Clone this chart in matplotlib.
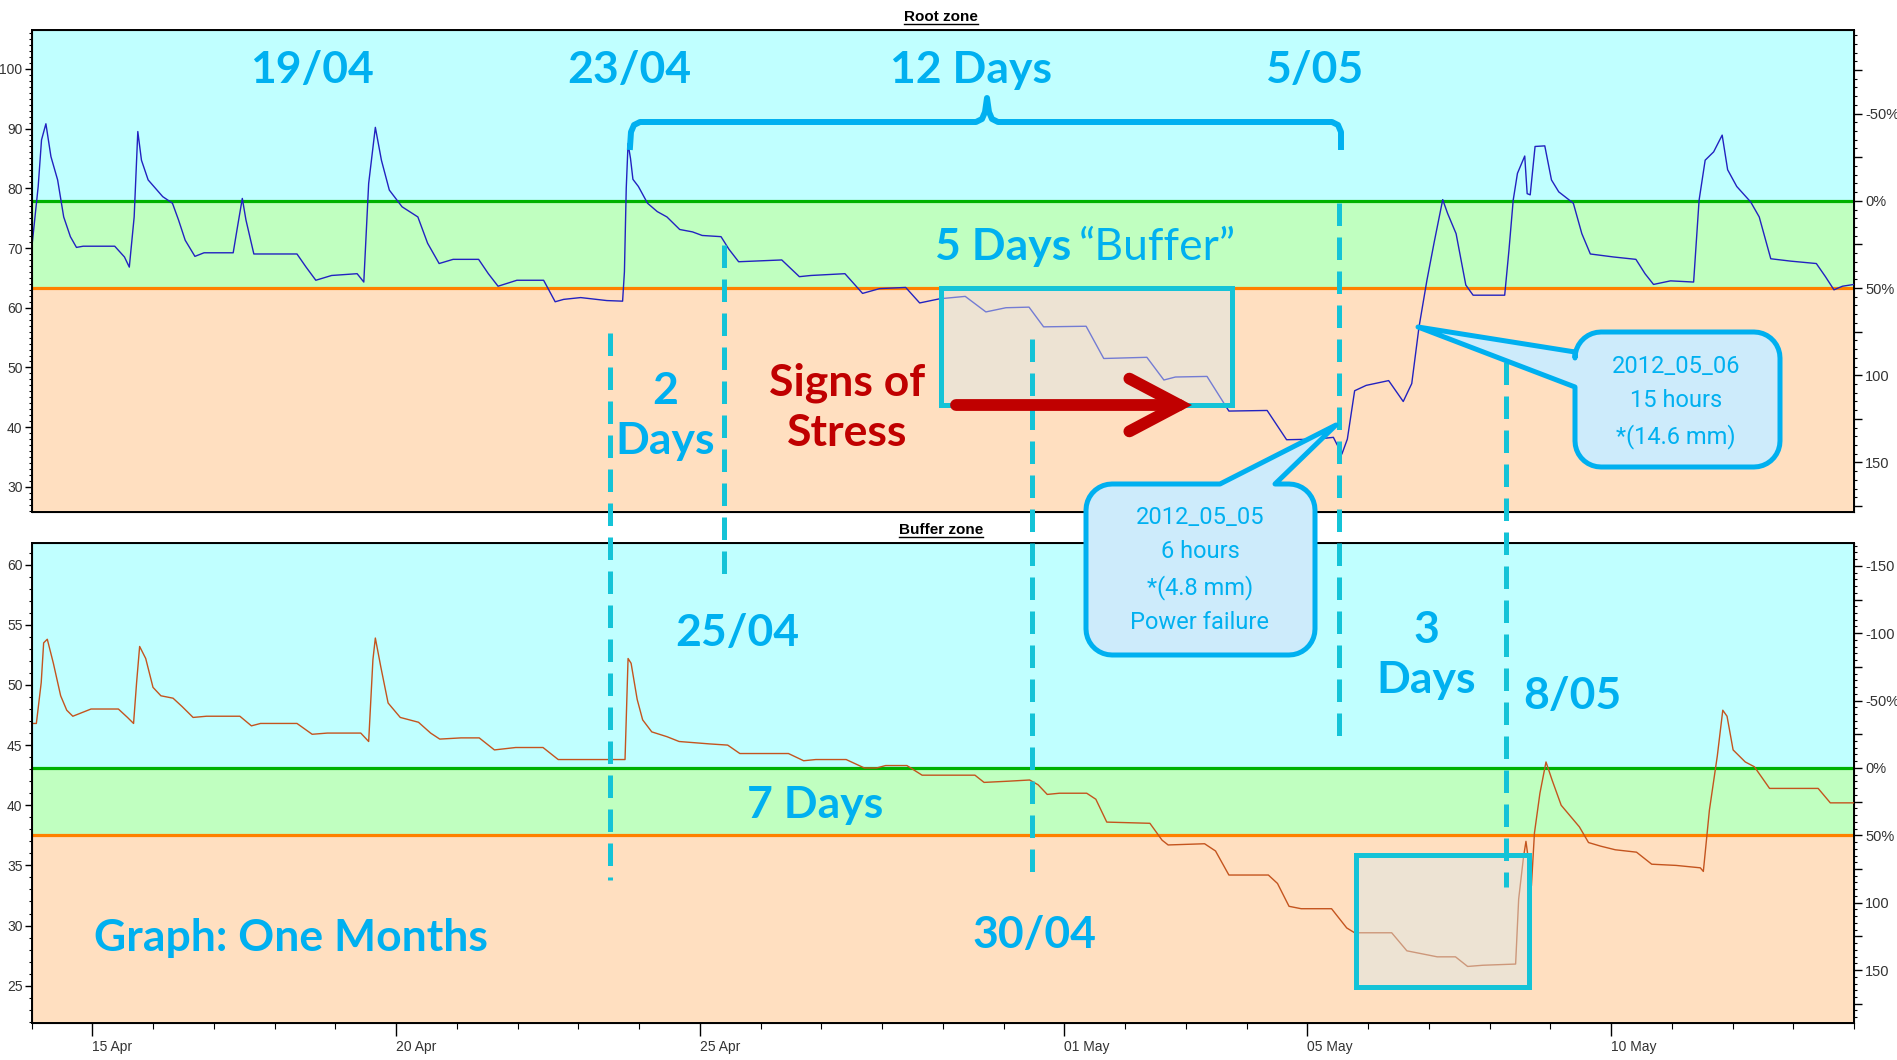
import matplotlib
matplotlib.use('Agg')
import matplotlib.pyplot as plt
import matplotlib.dates as mdates
import matplotlib.ticker as mticker
from matplotlib.patches import Rectangle, Polygon, FancyArrowPatch
from matplotlib.lines import Line2D
from matplotlib import font_manager
from matplotlib.colors import to_rgba
import numpy as np
import pandas as pd

# ---- data -------------------------------------------------------------
start = pd.Timestamp('2012-04-14')
end = pd.Timestamp('2012-05-14')

# root zone sensor, days after 14 Apr
root_days = [0.0, 0.11, 0.165, 0.237, 0.32, 0.43, 0.53, 0.64, 0.74, 0.85, 1.37, 1.53, 1.61, 1.69,
             1.75, 1.81, 1.92, 2.16, 2.32, 2.42, 2.53, 2.69, 2.84, 3.32, 3.39, 3.47, 3.53, 3.66,
             4.37, 4.52, 4.68, 4.94, 5.36, 5.47, 5.55, 5.66, 5.76, 5.89, 6.10, 6.36, 6.52, 6.71,
             6.94, 7.36, 7.52, 7.68, 7.99, 8.43, 8.62, 8.76, 9.04, 9.47, 9.73, 9.76, 9.79, 9.82,
             9.86, 9.90, 9.99, 10.14, 10.30, 10.46, 10.67, 10.88, 11.04, 11.35, 11.48, 11.64,
             12.35, 12.64, 12.83, 13.39, 13.68, 13.96, 14.39, 14.62, 14.95, 15.37, 15.71, 16.04,
             16.42, 16.66, 17.36, 17.65, 18.36, 18.64, 18.83, 19.35, 19.71, 20.34, 20.66, 21.15,
             21.43, 21.57, 21.66, 21.78, 21.97, 22.34, 22.58, 22.72, 22.84, 22.97, 23.09, 23.23,
             23.31, 23.45, 23.61, 23.73, 24.25, 24.32, 24.39, 24.46, 24.58, 24.62, 24.67, 24.75,
             24.91, 25.02, 25.14, 25.38, 25.52, 25.66, 26.04, 26.41, 26.56, 26.70, 26.98, 27.36,
             27.45, 27.55, 27.69, 27.83, 27.92, 28.07, 28.30, 28.44, 28.63, 28.96, 29.38, 29.53,
             29.67, 29.81, 30.0]
root_vals = [69.6, 80.3, 88.1, 90.8, 85.3, 81.4, 75.2, 71.9, 70.1, 70.3, 70.3, 68.5, 66.8, 75.2,
             89.5, 84.7, 81.4, 78.6, 77.5, 74.7, 71.3, 68.6, 69.2, 69.2, 73.5, 78.3, 74.7, 69.0,
             69.0, 66.8, 64.6, 65.4, 65.7, 64.3, 80.8, 90.2, 84.7, 79.7, 76.9, 75.2, 70.8, 67.4,
             68.1, 68.1, 65.7, 63.6, 64.6, 64.6, 61.0, 61.4, 61.7, 61.2, 61.1, 66.0, 80.0, 87.5,
             85.0, 81.5, 80.3, 77.5, 76.1, 75.2, 73.1, 72.7, 72.1, 71.9, 69.8, 67.7,
             68.0, 65.2, 65.4, 65.7, 62.4, 63.2, 63.4, 60.8, 61.5, 61.9, 59.3, 60.0,
             60.1, 56.8, 56.9, 51.5, 51.7, 47.9, 48.4, 48.5, 42.7, 42.8, 37.9, 38.0,
             38.3, 35.5, 38.0, 46.1, 47.0, 47.8, 44.3, 47.3, 56.8, 64.6, 71.0, 78.1,
             75.8, 72.4, 63.8, 62.1, 62.1, 69.6, 78.0, 82.5, 85.4, 79.1, 78.9, 87.0,
             87.1, 81.4, 79.4, 77.5, 72.4, 69.0, 68.5, 68.1, 65.7, 63.9, 64.5, 64.3,
             78.0, 84.7, 86.1, 88.9, 83.1, 80.3, 77.7, 75.2, 68.2, 67.8, 67.4, 65.2,
             63.0, 63.6, 63.9]

# buffer zone sensor
buffer_days = [0.0, 0.08, 0.16, 0.20, 0.26, 0.36, 0.48, 0.58, 0.68, 0.88, 0.98, 1.43, 1.58, 1.68,
               1.73, 1.78, 1.88, 2.00, 2.13, 2.33, 2.48, 2.66, 2.88, 3.43, 3.62, 3.77, 4.37, 4.62,
               4.87, 5.42, 5.55, 5.62, 5.66, 5.75, 5.87, 6.07, 6.37, 6.57, 6.72, 7.07, 7.37, 7.62,
               7.97, 8.42, 8.67, 9.77, 9.82, 9.87, 9.97, 10.06, 10.21, 10.46, 10.66, 11.16, 11.46,
               11.66, 12.46, 12.71, 12.91, 13.41, 13.71, 13.91, 14.06, 14.41, 14.66, 15.53, 15.68,
               16.08, 16.43, 16.57, 16.72, 16.92, 17.37, 17.52, 17.70, 18.41, 18.61, 18.71, 19.31,
               19.49, 19.71, 20.36, 20.51, 20.70, 20.90, 21.40, 21.65, 21.78, 22.39, 22.64, 22.94,
               23.14, 23.44, 23.64, 23.89, 24.43, 24.48, 24.56, 24.60, 24.64, 24.69, 24.74, 24.83,
               24.93, 25.03, 25.18, 25.38, 25.48, 25.63, 25.83, 26.07, 26.42, 26.67, 27.07, 27.47,
               27.52, 27.62, 27.75, 27.84, 27.91, 28.01, 28.21, 28.36, 28.61, 29.41, 29.61, 30.0]
buffer_vals = [46.8, 46.8, 50.2, 53.5, 53.8, 51.8, 49.1, 47.9, 47.4, 47.8, 48.0, 48.0, 47.3, 46.8,
               50.2, 53.2, 52.2, 49.8, 49.1, 48.9, 48.2, 47.3, 47.4, 47.4, 46.6, 46.8, 46.8, 45.9,
               46.0, 46.0, 45.3, 52.1, 53.9, 51.5, 48.5, 47.3, 46.9, 46.0, 45.5, 45.6, 45.6, 44.6,
               44.8, 44.8, 43.8, 43.8, 52.2, 51.8, 48.8, 47.1, 46.1, 45.7, 45.3, 45.1, 45.0,
               44.3, 44.3, 43.7, 43.8, 43.8, 43.1, 43.1, 43.3, 43.3, 42.5, 42.5, 41.9,
               42.0, 42.1, 41.7, 40.9, 41.0, 41.0, 40.5, 38.6, 38.5, 37.1, 36.7, 36.8,
               36.2, 34.2, 34.2, 33.5, 31.6, 31.4, 31.4, 29.8, 29.4, 29.4, 27.9, 27.6,
               27.4, 27.4, 26.6, 26.7, 26.8, 32.2, 35.7, 37.0, 35.5, 33.3, 37.7, 41.0,
               43.6, 42.1, 40.0, 38.8, 38.2, 36.9, 36.6, 36.3, 36.1, 35.1, 35.0, 34.8,
               34.5, 39.6, 44.1, 47.9, 47.4, 44.6, 43.6, 43.2, 41.4, 41.4, 40.2, 40.2]

root_ylim = (25.8, 106.5)
buffer_ylim = (21.9, 61.8)
root_green, root_orange = 77.9, 63.3
buffer_green, buffer_orange = 43.1, 37.5

date_ticks = ['2012-04-15', '2012-04-20', '2012-04-25', '2012-05-01', '2012-05-05', '2012-05-10']
date_labels = ['15 Apr', '20 Apr', '25 Apr', '01 May', '05 May', '10 May']

# ---- style ------------------------------------------------------------
names = {f.name for f in font_manager.fontManager.ttflist}
tick_font = 'Liberation Sans Narrow' if 'Liberation Sans Narrow' in names else 'Liberation Sans'
plt.rcParams['font.family'] = ['Lato', 'DejaVu Sans']

cyan_bg, green_bg, peach_bg = '#C0FFFF', '#C0FFC0', '#FFDFC0'
txt_blue = '#00B0F0'
dash_cyan = '#14C3D7'

W, H = 1897, 1060
fig = plt.figure(figsize=(W / 100, H / 100), dpi=100)


def fx(x):
    return x / W


def fy(y):
    return 1 - y / H


ax1 = fig.add_axes([fx(31.5), fy(512), fx(1854) - fx(31.5), fy(30) - fy(512)])
ax2 = fig.add_axes([fx(31.5), fy(1023), fx(1854) - fx(31.5), fy(543) - fy(1023)])


def right_label(v, pos):
    if abs(v % 50) > 1e-6:
        return ''
    return f'{v:g}%' if abs(v) <= 50 else f'{v:g}'


def panel(ax, days, vals, ylim, green, orange, color, ymajor):
    t = start + pd.to_timedelta(days, unit='D')
    ax.axhspan(green, ylim[1], color=cyan_bg, zorder=0, lw=0)
    ax.axhspan(orange, green, color=green_bg, zorder=0, lw=0)
    ax.axhspan(ylim[0], orange, color=peach_bg, zorder=0, lw=0)
    ax.axhline(green, color='#00B000', lw=2.3, zorder=2)
    ax.axhline(orange, color='#FF8000', lw=2.3, zorder=2)
    ax.plot(t, vals, color=color, lw=1.0, zorder=3)
    ax.set_xlim(start, end)
    ax.set_ylim(*ylim)
    ax.yaxis.set_major_locator(mticker.MultipleLocator(ymajor))
    ax.yaxis.set_minor_locator(mticker.MultipleLocator(1))
    ax.tick_params(axis='y', which='major', length=5, width=1, labelsize=10, pad=1.5)
    ax.tick_params(axis='y', which='minor', length=2.5, width=0.8)
    for s in ax.spines.values():
        s.set_linewidth(1.4)
    rax = ax.twinx()
    to_r = lambda v: (green - v) / (green - orange) * 50
    rax.set_ylim(to_r(ylim[0]), to_r(ylim[1]))
    rax.yaxis.set_major_locator(mticker.MultipleLocator(25))
    rax.yaxis.set_minor_locator(mticker.MultipleLocator(5))
    rax.yaxis.set_major_formatter(mticker.FuncFormatter(right_label))
    rax.tick_params(axis='y', which='major', length=6, width=1, labelsize=10.5, pad=2)
    rax.tick_params(axis='y', which='minor', length=2.5, width=0.8)
    for a in (ax, rax):
        for lab in a.get_yticklabels():
            lab.set_family(tick_font)
            lab.set_color('#333333')
    return rax


panel(ax1, root_days, root_vals, root_ylim, root_green, root_orange, '#2222C0', 10)
panel(ax2, buffer_days, buffer_vals, buffer_ylim, buffer_green, buffer_orange, '#C4541E', 5)

ax1.tick_params(axis='x', which='both', bottom=False, labelbottom=False)
ax2.xaxis.set_major_locator(mticker.FixedLocator(mdates.date2num(pd.to_datetime(date_ticks))))
ax2.xaxis.set_major_formatter(mticker.FixedFormatter(date_labels))
ax2.xaxis.set_minor_locator(mdates.DayLocator())
ax2.tick_params(axis='x', which='major', length=9, width=1, labelsize=10, pad=3)
ax2.tick_params(axis='x', which='minor', length=4, width=0.8)
for lab in ax2.get_xticklabels():
    lab.set_family(tick_font)
    lab.set_ha('left')
    lab.set_color('#333333')

# ---- titles -----------------------------------------------------------
titles = []
for label, y in [('Root zone', 17), ('Buffer zone', 530)]:
    titles.append(fig.text(fx(941), fy(y), label, ha='center', va='center', fontsize=11,
                           fontweight='bold', family=tick_font))

# ---- shaded boxes -----------------------------------------------------
for (x0, y0, x1, y1) in [(941, 288, 1232, 405), (1356, 855, 1529, 987)]:
    fig.add_artist(Rectangle((fx(x0), fy(y1)), fx(x1) - fx(x0), fy(y0) - fy(y1),
                             transform=fig.transFigure, facecolor=to_rgba('#D8EAEC', 0.45),
                             edgecolor=dash_cyan, lw=3.6, zorder=1.5))

# ---- dashed markers ---------------------------------------------------
for (x, y0, y1) in [(610, 333, 880), (724, 245, 584), (1032, 339, 883),
                    (1339, 203, 746), (1506, 362, 887)]:
    fig.add_artist(Line2D([fx(x), fx(x)], [fy(y0), fy(y1)], transform=fig.transFigure,
                          color=dash_cyan, lw=3.6, linestyle=(0, (4.5, 2.3)), zorder=2))

# ---- brace ------------------------------------------------------------
brace = [(630, 147), (631, 132), (634, 125), (640, 122), (976, 122), (982, 119), (985, 112),
         (987, 98), (989, 112), (992, 119), (998, 122), (1332, 122), (1338, 125), (1341, 132),
         (1341, 147)]
fig.add_artist(Line2D([fx(p[0]) for p in brace], [fy(p[1]) for p in brace],
                      transform=fig.transFigure, color=txt_blue, lw=4.3,
                      solid_joinstyle='round', zorder=2))

# ---- red arrow --------------------------------------------------------
fig.add_artist(FancyArrowPatch((fx(956), fy(405)), (fx(1192), fy(405)),
                               transform=fig.transFigure,
                               arrowstyle='->,head_length=1.8,head_width=0.95',
                               mutation_scale=20, lw=8.5, color='#C00000',
                               shrinkA=0, shrinkB=0, joinstyle='miter', zorder=3))


# ---- callouts ---------------------------------------------------------
def callout(x0, y0, x1, y1, r, side, base, tip):
    pts = []

    def arc(cx, cy, a0, a1):
        for a in np.linspace(a0, a1, 10):
            pts.append((cx + r * np.cos(a), cy + r * np.sin(a)))

    arc(x0 + r, y0 + r, np.pi, 1.5 * np.pi)
    if side == 'top':
        pts.extend([(base[0], y0), tip, (base[1], y0)])
    arc(x1 - r, y0 + r, 1.5 * np.pi, 2 * np.pi)
    arc(x1 - r, y1 - r, 0, 0.5 * np.pi)
    arc(x0 + r, y1 - r, 0.5 * np.pi, np.pi)
    if side == 'left':
        pts.extend([(x0, base[1]), tip, (x0, base[0])])
    poly = Polygon([(fx(px), fy(py)) for px, py in pts], closed=True, transform=fig.transFigure,
                   facecolor='#CDEBFB', edgecolor=txt_blue, lw=3.6, joinstyle='round', zorder=3)
    fig.add_artist(poly)


callout(1086, 484, 1315, 655, 26, 'top', (1220, 1275), (1336, 425))
callout(1575, 332, 1780, 467, 26, 'left', (352, 387), (1418, 327))

small = dict(color=txt_blue, fontsize=17, ha='center', va='center', family=['Roboto', 'DejaVu Sans'],
             fontweight='normal', linespacing=1.62, zorder=4)
fig.text(fx(1200), fy(570), '2012_05_05\n6 hours\n*(4.8 mm)\nPower failure', **small)
fig.text(fx(1676), fy(402), '2012_05_06\n15 hours\n*(14.6 mm)', **small)

# ---- big labels -------------------------------------------------------
big = dict(color=txt_blue, fontsize=32, fontweight='bold', ha='center', va='center', zorder=4)
for (x, y, s) in [(312, 70, '19/04'), (629, 70, '23/04'), (971, 70, '12 Days'), (1314, 70, '5/05'),
                  (737, 633, '25/04'), (815, 805, '7 Days'), (1572, 696, '8/05'), (1034, 935, '30/04')]:
    fig.text(fx(x), fy(y), s, **big)
for (x, y, s) in [(665, 416, '2\nDays'), (1426, 655, '3\nDays')]:
    fig.text(fx(x), fy(y), s, linespacing=1.3, **big)
fig.text(fx(1071), fy(247), '5 Days', **{**big, 'ha': 'right'})
fig.text(fx(1079), fy(247), '\u201cBuffer\u201d', **{**big, 'ha': 'left', 'fontweight': 'normal'})
fig.text(fx(94), fy(938), 'Graph: One Months', **{**big, 'ha': 'left'})
fig.text(fx(847), fy(408), 'Signs of\nStress', linespacing=1.3, **{**big, 'color': '#C00000'})

# underline the panel titles
fig.canvas.draw()
for t in titles:
    bb = t.get_window_extent()
    fig.add_artist(Line2D([bb.x0 / W, bb.x1 / W], [(bb.y0 + 0.5) / H] * 2,
                          transform=fig.transFigure, color='black', lw=1))

fig.savefig('out.png', dpi=100)
